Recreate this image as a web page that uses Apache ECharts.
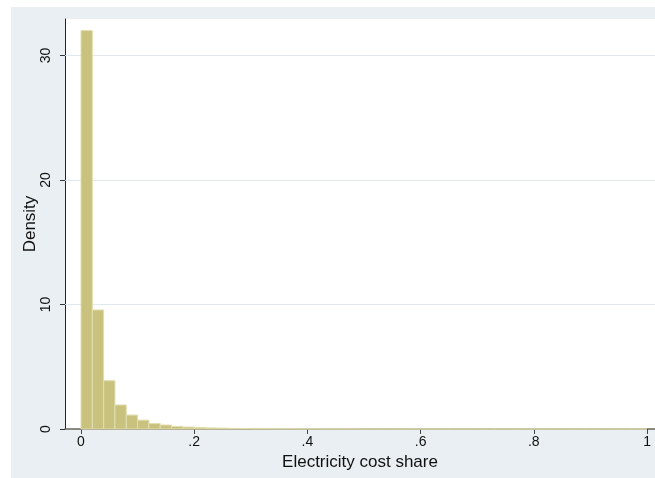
<!DOCTYPE html>
<html>
<head>
<meta charset="utf-8">
<script src="https://cdn.jsdelivr.net/npm/echarts@6/dist/echarts.min.js"></script>
<style>
html,body{margin:0;padding:0;background:#ffffff;}
#chart{width:655px;height:478px;}
</style>
</head>
<body>
<div id="chart"></div>
<script>
// Histogram of electricity cost share (Stata-style), bins of width 0.02 starting at 0
const binStart = 0;
const binWidth = 0.02;
const densities = [32.0, 9.56, 3.88, 1.93, 1.12, 0.71, 0.44, 0.32, 0.21, 0.16,
                   0.12, 0.09, 0.07, 0.05, 0.04, 0.03, 0.03, 0.02, 0.02, 0.015,
                   0.012, 0.01, 0.01, 0.008, 0.007, 0.006, 0.005, 0.005, 0.004, 0.004,
                   0.003, 0.003, 0.003, 0.003, 0.002, 0.002, 0.002, 0.002, 0.002, 0.002,
                   0.002, 0.002, 0.002, 0.002, 0.002, 0.002, 0.002, 0.002, 0.002, 0.002];
const xTicks = [0, 0.2, 0.4, 0.6, 0.8, 1];
const yTicks = [0, 10, 20, 30];
const xTitle = 'Electricity cost share';
const yTitle = 'Density';

const barData = densities.map((d, i) => [binStart + i * binWidth, binStart + (i + 1) * binWidth, d]);

function fmtX(v) {
  if (Math.abs(v) < 1e-9) return '0';
  if (Math.abs(v - 1) < 1e-9) return '1';
  return String(+v.toFixed(1)).replace(/^0/, '');
}

const chart = echarts.init(document.getElementById('chart'), null, {renderer: 'canvas'});
chart.setOption({
  animation: false,
  backgroundColor: 'transparent',
  textStyle: {fontFamily: 'Liberation Sans, Arial, sans-serif'},
  graphic: [{
    type: 'rect', z: -10, silent: true,
    shape: {x: 11, y: 7, width: 644, height: 471},
    style: {fill: '#e9eff2'}
  }],
  grid: {
    left: 65, right: 0, top: 19, bottom: 49,
    show: true, backgroundColor: '#ffffff', borderWidth: 0,
    containLabel: false
  },
  xAxis: {
    type: 'value',
    min: -0.02827, max: 1.0141,
    name: xTitle, nameLocation: 'middle', nameGap: 25,
    nameMoveOverlap: false,
    nameTextStyle: {fontSize: 17, color: '#111'},
    axisLine: {show: true, onZero: false, lineStyle: {color: '#66665a', width: 1.5}},
    axisTick: {show: true, length: 5, customValues: xTicks, lineStyle: {color: '#444', width: 1}},
    axisLabel: {customValues: xTicks, formatter: fmtX, fontSize: 14, color: '#111', margin: 6},
    splitLine: {show: false}
  },
  yAxis: {
    type: 'value',
    min: 0, max: 32.93,
    name: yTitle, nameLocation: 'middle', nameGap: 26,
    nameMoveOverlap: false,
    nameTextStyle: {fontSize: 17, color: '#111'},
    axisLine: {show: true, onZero: false, lineStyle: {color: '#222', width: 1}},
    axisTick: {show: true, length: 5, customValues: yTicks, lineStyle: {color: '#333', width: 1}},
    axisLabel: {customValues: yTicks, rotate: 90, fontSize: 14, color: '#111', margin: 12},
    splitLine: {show: false}
  },
  series: [{
    type: 'line',
    data: [],
    z: 1,
    silent: true,
    markLine: {
      silent: true, symbol: 'none', label: {show: false},
      lineStyle: {color: '#e0e8ee', width: 1, type: 'solid'},
      data: yTicks.filter(v => v > 0).map(v => ({yAxis: v}))
    }
  }, {
    type: 'custom',
    data: barData,
    encode: {x: [0, 1], y: 2},
    renderItem: function (params, api) {
      const p0 = api.coord([api.value(0), 0]);
      const p1 = api.coord([api.value(1), api.value(2)]);
      return {
        type: 'rect',
        shape: {x: p0[0], y: p1[1], width: p1[0] - p0[0], height: p0[1] - p1[1]},
        style: {fill: '#c9c17e', stroke: '#e2deb0', lineWidth: 1}
      };
    },
    z: 5
  }]
});
</script>
</body>
</html>
